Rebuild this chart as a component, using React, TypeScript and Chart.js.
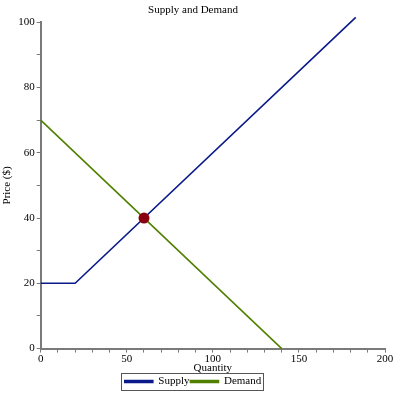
import React, { useEffect, useRef } from "react";
import { Chart, registerables } from "chart.js";

Chart.register(...registerables);

const supplyQuantity = [0, 20, 183];
const supplyPrice = [20, 20, 101.5];
const demandQuantity = [0, 140];
const demandPrice = [70, 0];
const equilibriumQuantity = [60];
const equilibriumPrice = [40];

const FONT = '"Liberation Serif", "DejaVu Serif", serif';
const AXIS = "#7a7a7a";

const legendBorder = {
  id: "legendBorder",
  afterDraw(chart: any) {
    const boxes = chart.legend?.legendHitBoxes;
    if (!boxes || !boxes.length) return;
    const first = boxes[0];
    const last = boxes[boxes.length - 1];
    const ctx = chart.ctx;
    ctx.save();
    ctx.strokeStyle = "#555";
    ctx.lineWidth = 1;
    const l = Math.round(first.left) - 3.5;
    const t = Math.round(first.top) - 2.5;
    const r = Math.round(last.left + last.width) + 2.5;
    const b = Math.round(first.top + first.height) + 3.5;
    ctx.strokeRect(l, t, r - l, b - t);
    ctx.restore();
  },
};

export default function App() {
  const ref = useRef<HTMLCanvasElement>(null);
  useEffect(() => {
    document.body.style.margin = "0";
    const toPts = (xs: number[], ys: number[]) => xs.map((x, i) => ({ x, y: ys[i] }));
    const chart = new Chart(ref.current!, {
      type: "scatter",
      data: {
        datasets: [
          {
            label: "Supply",
            data: toPts(supplyQuantity, supplyPrice),
            showLine: true,
            borderColor: "#0a1a8a",
            backgroundColor: "#0a1a8a",
            borderWidth: 1.6,
            pointRadius: 0,
            clip: false as any,
            order: 2,
          },
          {
            label: "Demand",
            data: toPts(demandQuantity, demandPrice),
            showLine: true,
            borderColor: "#4f8000",
            backgroundColor: "#4f8000",
            borderWidth: 1.6,
            pointRadius: 0,
            clip: false as any,
            order: 1,
          },
          {
            label: "Equilibrium",
            data: toPts(equilibriumQuantity, equilibriumPrice),
            showLine: false,
            pointRadius: 5.5,
            pointBackgroundColor: "#8b0010",
            pointBorderColor: "#8b0010",
            pointBorderWidth: 0,
            order: 0,
          },
        ],
      },
      options: {
        animation: false,
        responsive: false,
        layout: { padding: { left: 1, right: 12, top: 1, bottom: 0 } },
        plugins: {
          title: {
            display: true,
            text: "Supply and Demand",
            color: "#000",
            font: { family: FONT, size: 11, weight: "normal" },
            padding: { top: 3, bottom: 5 },
          },
          legend: {
            position: "bottom",
            labels: {
              filter: (item: any) => item.text !== "Equilibrium",
              sort: (a: any, b: any) => a.datasetIndex - b.datasetIndex,
              color: "#000",
              font: { family: FONT, size: 11 },
              boxWidth: 28,
              boxHeight: 2,
              padding: 1,
            },
          },
          tooltip: { enabled: false },
        },
        scales: {
          x: {
            type: "linear",
            min: 0,
            max: 200,
            title: {
              display: true,
              text: "Quantity",
              color: "#000",
              font: { family: FONT, size: 11 },
              padding: { top: -4, bottom: 0 },
            },
            ticks: {
              stepSize: 10,
              autoSkip: false,
              maxRotation: 0,
              color: "#000",
              font: { family: FONT, size: 11 },
              padding: 0,
              callback: (v: any) => (Number(v) % 50 === 0 ? String(v) : ""),
            },
            grid: { drawOnChartArea: false, color: AXIS, tickLength: 4 },
            border: { color: AXIS, width: 2 },
          },
          y: {
            type: "linear",
            min: 0,
            max: 100,
            title: {
              display: true,
              text: "Price ($)",
              color: "#000",
              font: { family: FONT, size: 11 },
              padding: { top: 0, bottom: 2 },
            },
            ticks: {
              stepSize: 10,
              autoSkip: false,
              color: "#000",
              font: { family: FONT, size: 11 },
              padding: 2,
              callback: (v: any) => (Number(v) % 20 === 0 ? String(v) : ""),
            },
            grid: { drawOnChartArea: false, color: AXIS, tickLength: 4 },
            border: { color: AXIS, width: 2 },
          },
        },
      },
      plugins: [legendBorder],
    });
    return () => chart.destroy();
  }, []);
  return <canvas ref={ref} width={397} height={397} style={{ display: "block" }} />;
}
